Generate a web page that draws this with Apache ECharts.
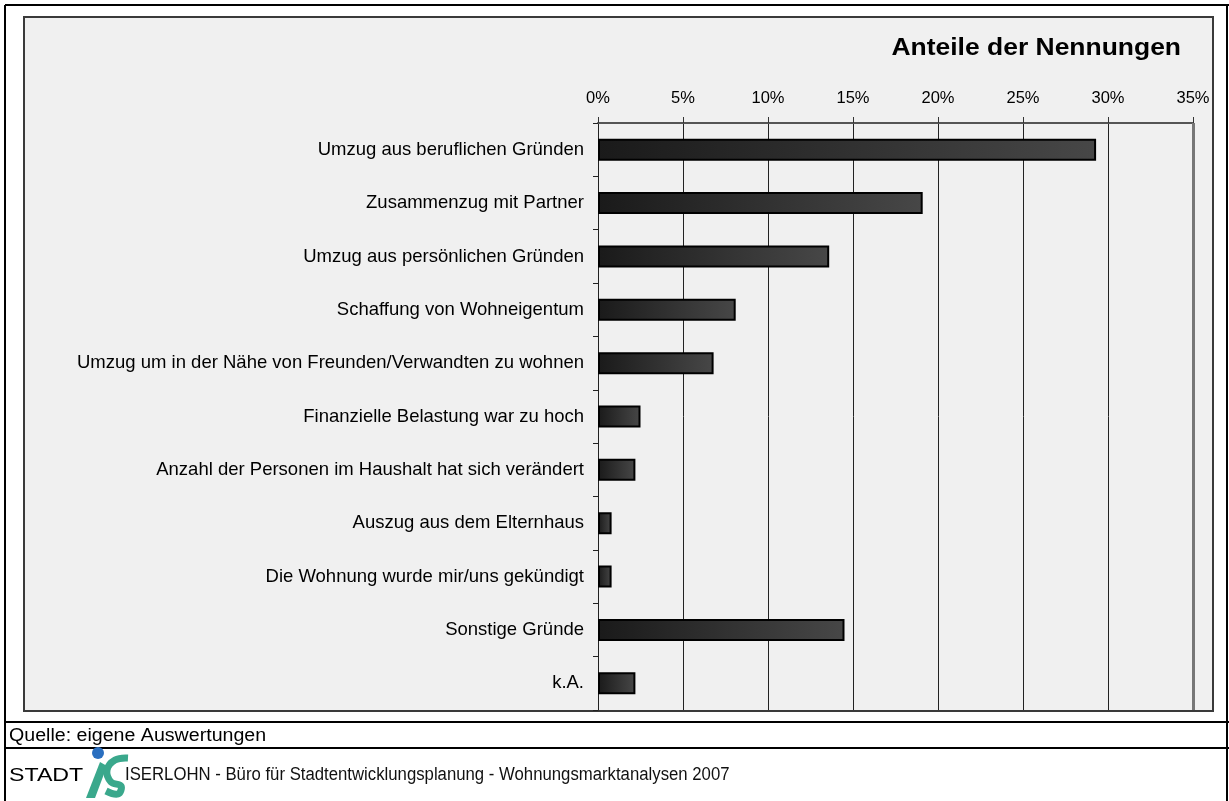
<!DOCTYPE html>
<html>
<head>
<meta charset="utf-8">
<script src="https://cdn.jsdelivr.net/npm/echarts@6/dist/echarts.min.js"></script>
<style>
html,body{margin:0;padding:0;background:#fff;}
#chart{width:1229px;height:801px;}
</style>
</head>
<body>
<div id="chart"></div>
<script>
const categories = [
  "Umzug aus beruflichen Gründen",
  "Zusammenzug mit Partner",
  "Umzug aus persönlichen Gründen",
  "Schaffung von Wohneigentum",
  "Umzug um in der Nähe von Freunden/Verwandten zu wohnen",
  "Finanzielle Belastung war zu hoch",
  "Anzahl der Personen im Haushalt hat sich verändert",
  "Auszug aus dem Elternhaus",
  "Die Wohnung wurde mir/uns gekündigt",
  "Sonstige Gründe",
  "k.A."
];
const shares = [29.3, 19.1, 13.6, 8.1, 6.8, 2.5, 2.2, 0.8, 0.8, 14.5, 2.2];
const axisTicks = [0, 5, 10, 15, 20, 25, 30, 35];
const titleText = "Anteile der Nennungen";
const sourceText = "Quelle: eigene Auswertungen";
const footerLeft = "STADT";
const footerRight = "ISERLOHN - Büro für Stadtentwicklungsplanung - Wohnungsmarktanalysen 2007";

const FONT = "Liberation Sans, Arial, sans-serif";
const chart = echarts.init(document.getElementById('chart'), null, {renderer: 'canvas'});

chart.setOption({
  animation: false,
  backgroundColor: '#ffffff',
  textStyle: {fontFamily: FONT},
  graphic: [
    {type: 'line', shape: {x1: 5, y1: 5, x2: 1229, y2: 5}, style: {stroke: '#000', lineWidth: 2}, z: 0},
    {type: 'line', shape: {x1: 5, y1: 5, x2: 5, y2: 801}, style: {stroke: '#000', lineWidth: 2}, z: 0},
    {type: 'line', shape: {x1: 1227, y1: 5, x2: 1227, y2: 801}, style: {stroke: '#000', lineWidth: 2}, z: 0},
    {type: 'line', shape: {x1: 5, y1: 722, x2: 1229, y2: 722}, style: {stroke: '#000', lineWidth: 2}, z: 0},
    {type: 'line', shape: {x1: 5, y1: 748, x2: 1229, y2: 748}, style: {stroke: '#000', lineWidth: 2}, z: 0},
    {type: 'rect', shape: {x: 24, y: 17, width: 1189, height: 694},
     style: {fill: '#f0f0f0', stroke: '#3a3a3a', lineWidth: 2}, z: -10, silent: true},
    {type: 'text', x: 1181, y: 37, scaleX: 1.15,
     style: {text: titleText, font: 'bold 23px ' + FONT, fill: '#000', textAlign: 'right', textVerticalAlign: 'top'}, z: 10},
    {type: 'text', x: 9, y: 727, scaleX: 1.12,
     style: {text: sourceText, font: '17.5px ' + FONT, fill: '#000', textVerticalAlign: 'top'}, z: 10},
    {type: 'text', x: 9, y: 766, scaleX: 1.22,
     style: {text: footerLeft, font: '19px ' + FONT, fill: '#000', textVerticalAlign: 'top'}, z: 10},
    {type: 'text', x: 125, y: 766, scaleX: 0.93,
     style: {text: footerRight, font: '18px ' + FONT, fill: '#111', textVerticalAlign: 'top'}, z: 10},
    {type: 'circle', shape: {cx: 98, cy: 753, r: 6}, style: {fill: '#2a6fc0'}, z: 10},
    {type: 'polygon', shape: {points: [[86, 798], [95, 798], [107, 766], [100, 762]]}, style: {fill: '#3aa88c'}, z: 10},
    {type: 'polyline', shape: {points: [[128, 758], [115, 760], [107, 770], [111, 782], [121, 786], [118, 794], [106, 791]], smooth: 0.4},
     style: {stroke: '#3aa88c', lineWidth: 7, fill: null}, z: 10}
  ],
  grid: {left: 598, right: 36, top: 123, bottom: 91, containLabel: false},
  xAxis: {
    type: 'value', position: 'top', min: 0, max: 35, interval: 5,
    axisLine: {show: true, lineStyle: {color: '#555', width: 2}},
    axisTick: {show: true, length: 6, lineStyle: {color: '#333', width: 1}},
    axisLabel: {formatter: function (v) { return axisTicks.indexOf(v) >= 0 ? v + '%' : ''; },
                color: '#000', fontSize: 16.5, fontFamily: FONT, margin: 16},
    splitLine: {show: true, lineStyle: {color: '#222', width: 1, type: 'solid'}}
  },
  yAxis: {
    type: 'category', data: categories, inverse: true,
    axisLine: {show: true, lineStyle: {color: '#222', width: 1}},
    axisTick: {show: true, length: 5, alignWithLabel: false, lineStyle: {color: '#222'}},
    axisLabel: {color: '#000', fontSize: 18.5, fontFamily: FONT, margin: 14}
  },
  series: [{
    type: 'bar',
    data: shares,
    barWidth: 22,
    itemStyle: {
      color: {type: 'linear', x: 0, y: 0, x2: 1, y2: 0, colorStops: [
        {offset: 0, color: '#1a1a1a'},
        {offset: 1, color: '#474747'}
      ]},
      borderColor: '#000',
      borderWidth: 2
    },
    markLine: {
      silent: true, symbol: 'none', label: {show: false},
      lineStyle: {color: '#777', width: 3, type: 'solid'},
      data: [{xAxis: 35}]
    }
  }]
});
</script>
</body>
</html>
